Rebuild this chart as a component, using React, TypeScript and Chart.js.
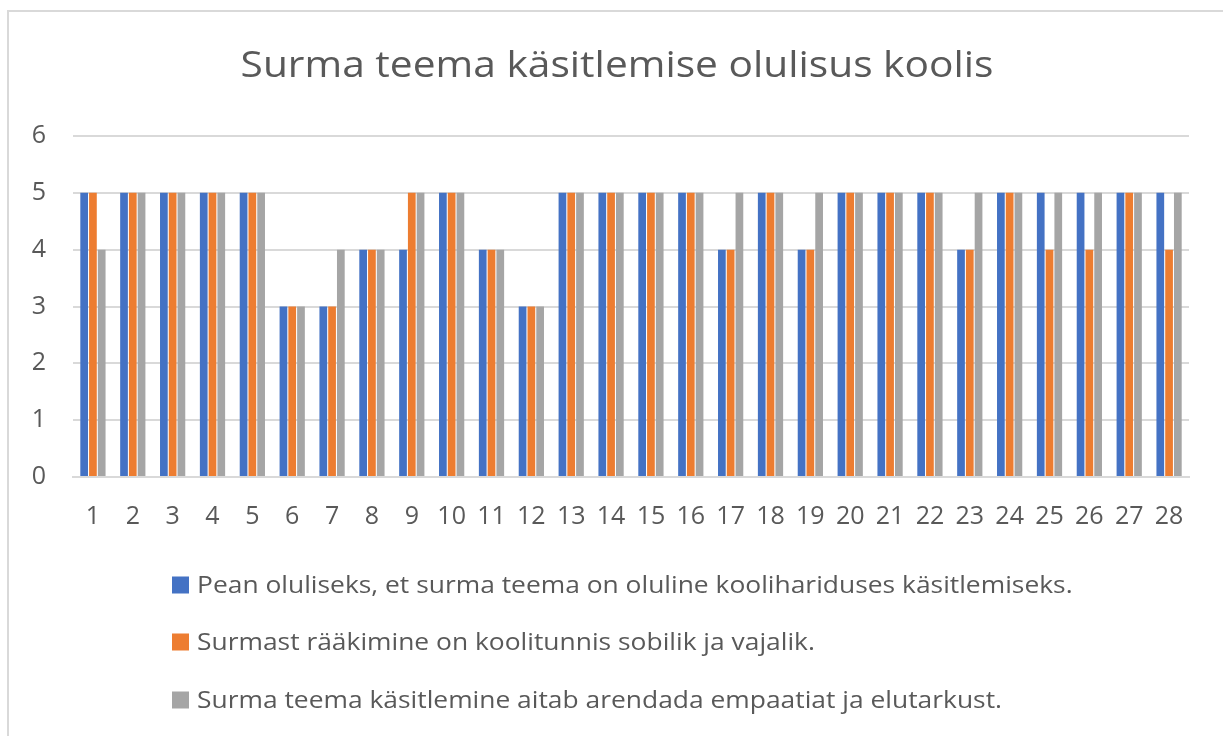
import React, { useEffect, useRef } from "react";
import { Chart, registerables } from "chart.js";

Chart.register(...registerables);

const categories = Array.from({ length: 28 }, (_, i) => String(i + 1));
const seriesNames = [
  "Pean oluliseks, et surma teema on oluline koolihariduses käsitlemiseks.",
  "Surmast rääkimine on koolitunnis sobilik ja vajalik.",
  "Surma teema käsitlemine aitab arendada empaatiat ja elutarkust.",
];
const seriesA = [5, 5, 5, 5, 5, 3, 3, 4, 4, 5, 4, 3, 5, 5, 5, 5, 4, 5, 4, 5, 5, 5, 4, 5, 5, 5, 5, 5];
const seriesB = [5, 5, 5, 5, 5, 3, 3, 4, 5, 5, 4, 3, 5, 5, 5, 5, 4, 5, 4, 5, 5, 5, 4, 5, 4, 4, 5, 4];
const seriesC = [4, 5, 5, 5, 5, 3, 4, 4, 5, 5, 4, 3, 5, 5, 5, 5, 5, 5, 5, 5, 5, 5, 5, 5, 5, 5, 5, 5];
const colors = ["#4472C4", "#ED7D31", "#A5A5A5"];
const titleText = "Surma teema käsitlemise olulisus koolis";
const FONT = "'Open Sans', sans-serif";
const TEXT = "#595959";

const W = 1223;
const H = 736;
const STRETCH = 1.1;

const decorPlugin = {
  id: "decor",
  beforeDraw(chart: any) {
    const ctx = chart.ctx;
    ctx.save();
    ctx.fillStyle = "#ffffff";
    ctx.fillRect(0, 0, W, H);
    ctx.strokeStyle = "#d9d9d9";
    ctx.lineWidth = 2;
    ctx.beginPath();
    ctx.moveTo(8, H + 5);
    ctx.lineTo(8, 11);
    ctx.lineTo(W + 5, 11);
    ctx.stroke();
    ctx.restore();
  },
  afterDraw(chart: any) {
    const ctx = chart.ctx;
    // title
    ctx.save();
    ctx.fillStyle = TEXT;
    ctx.font = `37px ${FONT}`;
    ctx.textAlign = "center";
    ctx.textBaseline = "middle";
    ctx.translate(617, 66);
    ctx.scale(STRETCH, 1);
    ctx.fillText(titleText, 0, 0);
    ctx.restore();
    // legend
    const ys = [585, 642, 700];
    chart.data.datasets.forEach((ds: any, i: number) => {
      ctx.save();
      ctx.fillStyle = ds.backgroundColor;
      ctx.fillRect(172, ys[i] - 8.5, 17, 17);
      ctx.fillStyle = TEXT;
      ctx.font = `24px ${FONT}`;
      ctx.textAlign = "left";
      ctx.textBaseline = "middle";
      ctx.translate(197, ys[i] + 1);
      ctx.scale(STRETCH, 1);
      ctx.fillText(ds.label, 0, 0);
      ctx.restore();
    });
  },
};

export default function App() {
  const ref = useRef<HTMLCanvasElement>(null);
  useEffect(() => {
    document.body.style.overflow = "hidden";
    const chart = new Chart(ref.current!, {
      type: "bar",
      data: {
        labels: categories,
        datasets: [seriesA, seriesB, seriesC].map((d, i) => ({
          label: seriesNames[i],
          data: d,
          backgroundColor: colors[i],
          barPercentage: 0.88,
          categoryPercentage: 0.66,
        })),
      },
      options: {
        responsive: false,
        animation: false,
        layout: { padding: { top: 136, right: 34, bottom: 199, left: 0 } },
        plugins: {
          legend: { display: false },
          title: { display: false },
          tooltip: { enabled: false },
        },
        scales: {
          x: {
            grid: { display: false, drawTicks: false },
            border: { display: true, color: "#d9d9d9", width: 2 },
            ticks: { color: TEXT, font: { family: FONT, size: 25 }, padding: 25, maxRotation: 0, autoSkip: false },
            afterFit: (s: any) => { s.height = 60; },
          },
          y: {
            min: 0,
            max: 6,
            grid: { color: "#d9d9d9", lineWidth: 2, drawTicks: false },
            border: { display: false },
            ticks: { stepSize: 1, color: TEXT, font: { family: FONT, size: 25 }, padding: 27 },
            afterFit: (s: any) => { s.width = 73; },
          },
        },
      },
      plugins: [decorPlugin],
    });
    return () => chart.destroy();
  }, []);
  return (
    <div style={{ position: "fixed", left: 0, top: 0, width: W, height: H, background: "#fff" }}>
      <canvas ref={ref} width={W} height={H} style={{ display: "block" }} />
    </div>
  );
}
